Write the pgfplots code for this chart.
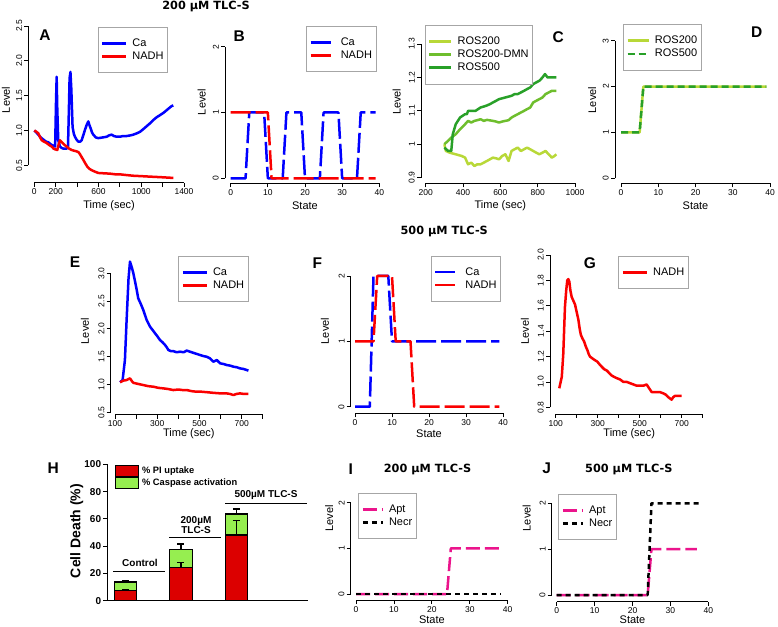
\documentclass[border=0pt]{standalone}
\usepackage{fontspec}
\setmainfont{Liberation Sans}
\newfontfamily\dejavu{DejaVu Sans}
\usepackage{pgfplots}
\pgfplotsset{compat=1.18}
\definecolor{rblue}{RGB}{0,0,255}
\definecolor{rred}{RGB}{250,0,0}
\definecolor{rosA}{RGB}{184,216,56}
\definecolor{rosB}{RGB}{110,190,45}
\definecolor{rosC}{RGB}{40,160,40}
\definecolor{dpink}{RGB}{235,20,140}
\definecolor{hred}{RGB}{220,0,0}
\definecolor{hgreen}{RGB}{150,238,80}
\newcommand{\tickfont}{\fontsize{8.5}{10}\selectfont}
\newcommand{\labfont}{\fontsize{11}{13}\selectfont}
\newcommand{\legfont}{\fontsize{11}{13}\selectfont}
\newcommand{\letfont}{\bfseries\fontsize{15.5}{18}\selectfont}
\newcommand{\titfont}{\dejavu\bfseries\fontsize{11.3}{13}\selectfont}
\pgfplotsset{
  rp/.style={
    scale only axis, clip=false,
    axis x line=bottom, axis y line=left,
    axis line style={-, line width=0.8pt},
    tick style={black, line width=0.8pt},
    tick align=outside, major tick length=4pt,
    xticklabel style={font=\tickfont, inner sep=2pt},
    yticklabel style={font=\tickfont, rotate=90, anchor=south, inner sep=2pt},
    label style={font=\labfont},
    legend style={draw=gray!70, line width=0.5pt, fill=white, font=\legfont,
      anchor=north west, inner xsep=3pt, inner ysep=10.5pt, row sep=2pt,
      column sep=4pt, nodes={inner sep=1pt}},
    legend cell align=left,
    legend image code/.code={\draw[##1] (0pt,0pt) -- (24pt,0pt);},
    scaled ticks=false,
    /pgf/number format/assume math mode=true,
  },
  dl/.style={line width=2.5pt, line join=round},
  dd/.style={dl, dash pattern=on 20pt off 5pt},
}
\begin{document}
\begin{tikzpicture}
\useasboundingbox (0pt,0pt) rectangle (778pt,626pt);

% ---------- A ----------
\begin{axis}[rp, at={(34.3pt,460.7pt)}, anchor=south west, width=149.7pt, height=139.3pt,
  xmin=0, xmax=1400, ymin=0.5, ymax=2.5,
  axis x line shift=17.4pt, axis y line shift=6pt,
  xtick={0,200,...,1400}, xticklabels={0,200,,600,,1000,,1400},
  ytick={0.5,1,1.5,2,2.5}, yticklabels={0.5,1.0,1.5,2.0,2.5},
  xlabel={Time (sec)}, ylabel={Level},
  xlabel style={at={(axis description cs:0.5,-0.292)}, anchor=center},
  ylabel style={at={(axis description cs:-0.189,0.469)}, anchor=center},
  legend style={at={(axis description cs:0.4235,0.991)}}]
\addplot[dl, rblue] coordinates {(0,1.00)(20,0.97)(37,0.94)(60,0.90)(84,0.87)(110,0.84)(131,0.83)(155,0.80)(178,0.78)(195,0.77)(203,1.40)(209,1.77)(215,1.30)(224,0.86)(240,0.77)(255,0.75)(271,0.74)(290,0.74)(302,0.74)(315,0.76)(322,1.2)(330,1.75)(338,1.84)(346,1.6)(358,1.05)(370,0.95)(380,0.91)(395,0.87)(411,0.84)(430,0.84)(443,0.86)(458,0.93)(474,1.01)(490,1.08)(505,1.13)(515,1.08)(527,1.03)(540,0.97)(552,0.94)(575,0.90)(598,0.89)(640,0.90)(677,0.91)(700,0.93)(723,0.94)(745,0.92)(770,0.91)(800,0.91)(830,0.92)(863,0.92)(900,0.93)(926,0.94)(960,0.96)(988,0.98)(1020,1.02)(1050,1.06)(1080,1.10)(1113,1.15)(1145,1.19)(1175,1.22)(1205,1.25)(1237,1.29)(1260,1.32)(1284,1.35)(1300,1.36)};
\addlegendentry{Ca}
\addplot[dl, rred] coordinates {(0,1.00)(20,0.98)(37,0.96)(55,0.90)(69,0.86)(90,0.84)(115,0.82)(140,0.79)(162,0.77)(180,0.74)(193,0.73)(215,0.72)(228,0.80)(240,0.86)(252,0.84)(265,0.82)(285,0.79)(302,0.77)(325,0.74)(349,0.72)(370,0.71)(396,0.70)(412,0.69)(427,0.66)(442,0.62)(458,0.58)(476,0.53)(496,0.48)(515,0.45)(536,0.43)(565,0.41)(598,0.39)(650,0.385)(708,0.38)(760,0.37)(801,0.37)(860,0.36)(926,0.35)(990,0.345)(1050,0.34)(1110,0.335)(1175,0.33)(1230,0.325)(1284,0.32)(1300,0.32)};
\addlegendentry{NADH}
\end{axis}

% ---------- B ----------
\begin{axis}[rp, at={(230.7pt,447.7pt)}, anchor=south west, width=148.6pt, height=131.6pt,
  xmin=0, xmax=40, ymin=0, ymax=2,
  axis x line shift=5pt, axis y line shift=5.7pt,
  xtick={0,10,...,40}, ytick={0,1,2}, yticklabels={0,1,2},
  xlabel={State}, ylabel={Level},
  xlabel style={at={(axis description cs:0.5,-0.21)}, anchor=center},
  ylabel style={at={(axis description cs:-0.195,0.58)}, anchor=center},
  legend style={at={(axis description cs:0.507,1.157)}}]
\addplot[dd, rblue] coordinates {(0,0)(4,0)(5,1)(9,1)(10,0)(14,0)(15,1)(19,1)(20,0)(24,0)(25,1)(29,1)(30,0)(34,0)(35,1)(39,1)};
\addlegendentry{Ca}
\addplot[dd, rred] coordinates {(0,1)(10,1)(11,0)(39,0)};
\addlegendentry{NADH}
\end{axis}

% ---------- C ----------
\begin{axis}[rp, at={(425.7pt,448.3pt)}, anchor=south west, width=149.3pt, height=133.7pt,
  xmin=200, xmax=1000, ymin=0.9, ymax=1.3,
  axis x line shift=5.6pt, axis y line shift=4.7pt,
  xtick={200,400,...,1000}, xticklabels={200,400,600,800,1000},
  ytick={0.9,1,1.1,1.2,1.3}, yticklabels={0.9,1,1.1,1.2,1.3},
  xlabel={Time (sec)}, ylabel={Level},
  xlabel style={at={(axis description cs:0.5,-0.212)}, anchor=center},
  ylabel style={at={(axis description cs:-0.194,0.568)}, anchor=center},
  legend style={at={(axis description cs:-0.005,1.142)}},
  legend image code/.code={\draw[#1] (0pt,0pt) -- (22pt,0pt);}]
\addplot[dl, rosA] coordinates {(300,1.0)(308,0.98)(328,0.975)(361,0.97)(393,0.965)(411,0.96)(427,0.94)(444,0.945)(461,0.935)(476,0.94)(494,0.94)(511,0.945)(528,0.95)(544,0.955)(560,0.96)(577,0.958)(593,0.955)(610,0.965)(627,0.97)(644,0.95)(660,0.98)(676,0.985)(693,0.99)(710,0.98)(727,0.985)(743,0.99)(760,0.985)(776,0.98)(792,0.975)(809,0.97)(826,0.975)(842,0.98)(859,0.97)(876,0.96)(890,0.965)(900,0.97)};
\addlegendentry{ROS200}
\addplot[dl, rosB] coordinates {(300,1.0)(319,1.01)(337,1.02)(361,1.03)(384,1.045)(411,1.06)(427,1.07)(444,1.065)(461,1.07)(476,1.072)(494,1.075)(511,1.07)(528,1.073)(560,1.07)(577,1.068)(593,1.065)(610,1.068)(627,1.07)(644,1.072)(660,1.08)(676,1.085)(693,1.09)(710,1.095)(727,1.1)(743,1.105)(760,1.11)(776,1.125)(792,1.13)(809,1.135)(826,1.14)(842,1.15)(859,1.155)(876,1.16)(900,1.16)};
\addlegendentry{ROS200-DMN}
\addplot[dl, rosC] coordinates {(300,0.99)(320,0.98)(337,0.98)(345,1.03)(361,1.06)(384,1.08)(411,1.09)(421,1.09)(427,1.1)(467,1.1)(494,1.11)(523,1.115)(544,1.12)(560,1.125)(577,1.13)(593,1.135)(627,1.14)(660,1.145)(676,1.15)(693,1.15)(710,1.155)(727,1.16)(743,1.165)(760,1.17)(776,1.18)(792,1.185)(809,1.19)(826,1.2)(839,1.21)(853,1.2)(876,1.2)(900,1.2)};
\addlegendentry{ROS500}
\end{axis}

% ---------- D ----------
\begin{axis}[rp, at={(621pt,447.7pt)}, anchor=south west, width=149pt, height=137.6pt,
  xmin=0, xmax=40, ymin=0, ymax=3,
  axis x line shift=5pt, axis y line shift=6pt,
  xtick={0,10,...,40}, ytick={0,1,2,3}, yticklabels={0,1,2,3},
  xlabel={State}, ylabel={Level},
  xlabel style={at={(axis description cs:0.5,-0.201)}, anchor=center},
  ylabel style={at={(axis description cs:-0.193,0.569)}, anchor=center},
  legend style={at={(axis description cs:0.015,1.119)}},
  legend image code/.code={\draw[#1] (0pt,0pt) -- (21pt,0pt);}]
\addplot[dl, rosA] coordinates {(0,1)(5,1)(6,2)(39,2)};
\addlegendentry{ROS200}
\addplot[dl, rosC, dash pattern=on 7pt off 4pt,
  legend image code/.code={\draw[rosC, line width=2.5pt] (0pt,0pt) -- (21pt,0pt);}] coordinates {(0,1)(5,1)(6,2)(39,2)};
\addlegendentry{ROS500}
\end{axis}

% ---------- E ----------
\begin{axis}[rp, at={(115pt,213.7pt)}, anchor=south west, width=147.8pt, height=139pt,
  xmin=100, xmax=800, ymin=0.5, ymax=3.0,
  axis x line shift=2.5pt, axis y line shift=4.3pt,
  xtick={100,200,...,800}, xticklabels={100,,300,,500,,700,},
  ytick={0.5,1,1.5,2,2.5,3}, yticklabels={0.5,1.0,1.5,2.0,2.5,3.0},
  xlabel={Time (sec)}, ylabel={Level},
  xlabel style={at={(axis description cs:0.5,-0.151)}, anchor=center},
  ylabel style={at={(axis description cs:-0.203,0.585)}, anchor=center},
  legend style={at={(axis description cs:0.428,1.124)}}]
\addplot[dl, rblue] coordinates {(124,1.04)(136,1.08)(147,1.44)(155,2.16)(164,2.9)(171,3.21)(180,3.1)(187,3.0)(195,2.85)(203,2.7)(210,2.55)(222,2.45)(234,2.34)(250,2.16)(258,2.1)(266,2.04)(278,1.98)(290,1.92)(302,1.86)(313,1.8)(325,1.76)(337,1.71)(345,1.67)(353,1.62)(365,1.6)(376,1.6)(392,1.58)(408,1.59)(425,1.58)(440,1.61)(455,1.59)(471,1.57)(487,1.55)(503,1.53)(520,1.51)(534,1.5)(550,1.47)(566,1.41)(582,1.44)(598,1.38)(613,1.37)(629,1.35)(645,1.34)(661,1.32)(677,1.31)(692,1.29)(708,1.28)(724,1.26)(732,1.25)};
\addlegendentry{Ca}
\addplot[dl, rred] coordinates {(124,1.04)(140,1.07)(155,1.08)(165,1.10)(171,1.11)(180,1.06)(187,1.03)(210,1.01)(234,0.99)(258,0.97)(282,0.96)(305,0.94)(329,0.93)(350,0.92)(376,0.9)(400,0.91)(420,0.9)(440,0.9)(463,0.88)(487,0.87)(510,0.87)(540,0.86)(566,0.85)(600,0.84)(629,0.84)(645,0.83)(661,0.81)(675,0.83)(692,0.84)(710,0.83)(732,0.83)};
\addlegendentry{NADH}
\end{axis}

% ---------- F ----------
\begin{axis}[rp, at={(355pt,219.3pt)}, anchor=south west, width=148pt, height=130.7pt,
  xmin=0, xmax=40, ymin=0, ymax=2,
  axis x line shift=6.6pt, axis y line shift=4.3pt,
  xtick={0,10,...,40}, ytick={0,1,2}, yticklabels={0,1,2},
  xlabel={State}, ylabel={Level},
  xlabel style={at={(axis description cs:0.5,-0.204)}, anchor=center},
  ylabel style={at={(axis description cs:-0.203,0.579)}, anchor=center},
  legend style={at={(axis description cs:0.511,1.155)}}]
\addplot[dd, rblue] coordinates {(0,0)(4,0)(5,2)(9,2)(10,1)(39,1)};
\addlegendentry{Ca}
\addplot[dd, rred] coordinates {(0,1)(5,1)(6,2)(10,2)(11,1)(15,1)(16,0)(39,0)};
\addlegendentry{NADH}
\end{axis}

% ---------- G ----------
\begin{axis}[rp, at={(555.7pt,218.7pt)}, anchor=south west, width=147pt, height=152.3pt,
  xmin=100, xmax=800, ymin=0.8, ymax=2.0,
  axis x line shift=6.7pt, axis y line shift=5.7pt,
  xtick={100,200,...,800}, xticklabels={100,,300,,500,,700,},
  ytick={0.8,1,1.2,1.4,1.6,1.8,2}, yticklabels={0.8,1.0,1.2,1.4,1.6,1.8,2.0},
  xlabel={Time (sec)}, ylabel={Level},
  xlabel style={at={(axis description cs:0.5,-0.171)}, anchor=center},
  ylabel style={at={(axis description cs:-0.209,0.499)}, anchor=center},
  legend style={at={(axis description cs:0.426,0.993)}}]
\addplot[dl, rred] coordinates {(117,0.95)(129,1.04)(136,1.22)(144,1.59)(150,1.72)(155,1.80)(160,1.81)(165,1.79)(170,1.72)(176,1.67)(184,1.64)(192,1.61)(200,1.55)(208,1.49)(214,1.42)(220,1.37)(228,1.34)(235,1.32)(243,1.28)(251,1.25)(257,1.22)(263,1.20)(271,1.19)(279,1.18)(288,1.17)(298,1.16)(308,1.14)(319,1.12)(331,1.10)(343,1.09)(355,1.07)(367,1.05)(378,1.04)(390,1.03)(406,1.02)(422,1.00)(438,1.00)(454,0.99)(470,0.98)(486,0.97)(501,0.97)(517,0.97)(533,0.98)(545,0.95)(557,0.92)(569,0.92)(581,0.92)(596,0.92)(612,0.91)(624,0.90)(636,0.88)(644,0.87)(652,0.86)(660,0.88)(668,0.89)(684,0.89)(700,0.89)};
\addlegendentry{NADH}
\end{axis}

% ---------- H ----------
\begin{axis}[scale only axis, clip=false, at={(107.3pt,25.3pt)}, anchor=south west,
  width=201pt, height=136.4pt,
  xmin=-0.328, xmax=3.294, ymin=0, ymax=100,
  axis x line=bottom, axis y line=left,
  axis line style={-, line width=1.3pt},
  tick style={black, line width=1.2pt}, tick align=outside, major tick length=4pt,
  xtick=\empty, ytick={0,20,...,100},
  yticklabel style={font=\bfseries\fontsize{10}{12}\selectfont, inner sep=2pt},
  /pgf/number format/assume math mode=true,
  ylabel={Cell Death (\%)},
  ylabel style={font=\bfseries\fontsize{14}{16}\selectfont, at={(axis description cs:-0.152,0.511)}, anchor=center},
  legend style={at={(axis description cs:0.038,0.995)}, anchor=north west, draw=none, fill=none,
    font=\bfseries\fontsize{9.3}{11}\selectfont, inner sep=0pt, row sep=0pt, column sep=3pt,
    nodes={inner sep=0pt}},
  legend cell align=left, reverse legend]
\addplot[ybar, bar width=22.3pt, bar shift=0pt, fill=hgreen, draw=black, line width=1.2pt,
  legend image code/.code={\draw[fill=hgreen, draw=black, line width=1pt] (0pt,-5.5pt) rectangle (23pt,5.5pt);},
  error bars/.cd, y dir=plus, y explicit,
  error bar style={black, line width=1.2pt},
  error mark options={rotate=90, mark size=3.5pt, line width=1.2pt, black}]
  coordinates {(0,13.7) +- (0,0.7) (1,37.7) +- (0,3.9) (2,63.6) +- (0,3.6)};
\addlegendentry{\% Caspase activation}
\addplot[ybar, bar width=22.3pt, bar shift=0pt, fill=hred, draw=black, line width=1.2pt,
  legend image code/.code={\draw[fill=hred, draw=black, line width=1pt] (0pt,-5.5pt) rectangle (23pt,5.5pt);},
  error bars/.cd, y dir=plus, y explicit,
  error bar style={black, line width=1.2pt},
  error mark options={rotate=90, mark size=3.5pt, line width=1.2pt, black}]
  coordinates {(0,7.3) +- (0,1.2) (1,24.5) +- (0,3.4) (2,48.2) +- (0,10.4)};
\addlegendentry{\% PI uptake}
\end{axis}

% ---------- I ----------
\begin{axis}[rp, at={(356pt,32pt)}, anchor=south west, width=151.7pt, height=91.3pt,
  xmin=0, xmax=40, ymin=0, ymax=2,
  axis x line shift=6pt, axis y line shift=5.3pt,
  xtick={0,10,...,40}, ytick={0,1,2}, yticklabels={0,1,2},
  xlabel={State}, ylabel={Level},
  xlabel style={at={(axis description cs:0.5,-0.285)}, anchor=center},
  ylabel style={at={(axis description cs:-0.176,0.83)}, anchor=center},
  legend style={at={(axis description cs:0.015,1.103)}},
  legend image code/.code={\draw[#1] (0pt,0pt) -- (20pt,0pt);}]
\addplot[dl, dpink, dash pattern=on 14pt off 5pt] coordinates {(0,0)(24,0)(25,1)(38,1)};
\addlegendentry{Apt}
\addplot[dl, black, dash pattern=on 5pt off 4pt] coordinates {(0,0)(38,0)};
\addlegendentry{Necr}
\end{axis}

% ---------- J ----------
\begin{axis}[rp, at={(556.7pt,31pt)}, anchor=south west, width=151.6pt, height=91.7pt,
  xmin=0, xmax=40, ymin=0, ymax=2,
  axis x line shift=6.7pt, axis y line shift=5pt,
  xtick={0,10,...,40}, ytick={0,1,2}, yticklabels={0,1,2},
  xlabel={State}, ylabel={Level},
  xlabel style={at={(axis description cs:0.5,-0.273)}, anchor=center},
  ylabel style={at={(axis description cs:-0.198,0.84)}, anchor=center},
  legend style={at={(axis description cs:0.011,1.101)}},
  legend image code/.code={\draw[#1] (0pt,0pt) -- (20pt,0pt);}]
\addplot[dl, dpink, dash pattern=on 14pt off 5pt] coordinates {(0,0)(24,0)(25,1)(37,1)};
\addlegendentry{Apt}
\addplot[dl, black, dash pattern=on 5pt off 4pt] coordinates {(0,0)(24,0)(25,2)(38,2)};
\addlegendentry{Necr}
\end{axis}

% ---------- panel letters & titles ----------
\node[font=\letfont] at (45pt,591pt) {A};
\node[font=\letfont] at (239.3pt,590pt) {B};
\node[font=\letfont] at (558.3pt,589.3pt) {C};
\node[font=\letfont] at (756.7pt,594.3pt) {D};
\node[font=\letfont] at (75pt,364pt) {E};
\node[font=\letfont] at (317.3pt,362.7pt) {F};
\node[font=\letfont] at (590pt,363.3pt) {G};
\node[font=\letfont] at (53.3pt,157.7pt) {H};
\node[font=\letfont] at (350.7pt,156.7pt) {I};
\node[font=\letfont] at (546.7pt,157.7pt) {J};
\node[font=\titfont] at (206pt,619.5pt) {200 µM TLC-S};
\node[font=\titfont] at (444.2pt,394.3pt) {500 µM TLC-S};
\node[font=\titfont] at (427.5pt,156.7pt) {200 µM TLC-S};
\node[font=\titfont] at (628.8pt,156.7pt) {500 µM TLC-S};

% ---------- H annotations ----------
\draw[line width=1pt] (113.3pt,54.3pt) -- (165pt,54.3pt);
\node[font=\bfseries\fontsize{10}{12}\selectfont] at (140pt,62.7pt) {Control};
\draw[line width=1pt] (169.3pt,88.3pt) -- (220.7pt,88.3pt);
\node[font=\bfseries\fontsize{10}{12}\selectfont, align=center] at (196pt,100.6pt) {200µM\\[-2pt]TLC-S};
\draw[line width=1pt] (225.3pt,122.7pt) -- (306.7pt,122.7pt);
\node[font=\bfseries\fontsize{10}{12}\selectfont] at (266pt,131pt) {500µM TLC-S};
\end{tikzpicture}
\end{document}
